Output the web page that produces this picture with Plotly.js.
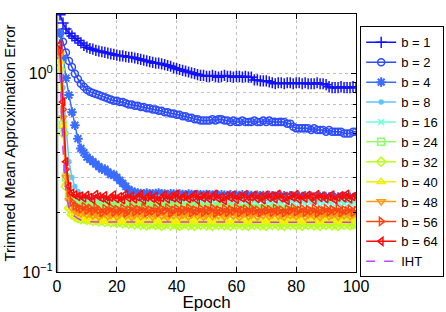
<!DOCTYPE html>
<html>
<head>
<meta charset="utf-8">
<script src="https://cdn.plot.ly/plotly-3.0.1.min.js"></script>
<style>html,body{margin:0;padding:0;background:#fff;}#chart{width:446px;height:312px;}</style>
</head>
<body>
<div id="chart"></div>
<script>
var epochs = [];
for (var i = 1; i <= 100; i++) epochs.push(i);

var b1 = [1.98,1.80,1.68,1.60,1.55,1.51,1.47,1.43,1.39,1.36,
1.34,1.33,1.31,1.30,1.29,1.28,1.27,1.26,1.25,1.24,
1.23,1.23,1.22,1.21,1.21,1.20,1.19,1.18,1.17,1.16,
1.15,1.14,1.13,1.13,1.12,1.11,1.10,1.09,1.07,1.06,
1.05,1.04,1.03,1.02,1.01,1.00,0.99,0.98,0.98,0.97,
0.97,0.98,0.97,0.96,0.97,0.98,0.97,0.97,0.96,0.97,
0.97,0.96,0.97,0.96,0.96,0.93,0.93,0.92,0.92,0.92,
0.91,0.90,0.89,0.90,0.90,0.89,0.90,0.90,0.89,0.90,
0.90,0.89,0.90,0.89,0.89,0.89,0.90,0.89,0.89,0.88,
0.86,0.85,0.85,0.85,0.86,0.85,0.85,0.85,0.86,0.85];

var b2 = [1.61,1.45,1.28,1.16,1.08,1.00,0.94,0.89,0.86,0.83,
0.81,0.80,0.79,0.78,0.77,0.76,0.75,0.74,0.73,0.73,
0.72,0.72,0.71,0.70,0.70,0.69,0.69,0.68,0.68,0.67,
0.67,0.66,0.66,0.65,0.65,0.64,0.64,0.63,0.63,0.62,
0.62,0.61,0.61,0.60,0.60,0.59,0.59,0.58,0.58,0.58,
0.58,0.59,0.58,0.59,0.59,0.58,0.58,0.57,0.58,0.57,
0.57,0.58,0.57,0.57,0.57,0.58,0.57,0.57,0.58,0.57,
0.58,0.57,0.57,0.57,0.57,0.57,0.56,0.56,0.54,0.53,
0.53,0.53,0.53,0.53,0.52,0.53,0.52,0.52,0.52,0.51,
0.52,0.51,0.51,0.51,0.51,0.50,0.50,0.50,0.51,0.51];

var b4 = [1.60,1.20,0.95,0.78,0.64,0.55,0.47,0.42,0.40,0.38,
0.37,0.36,0.35,0.34,0.33,0.33,0.32,0.31,0.31,0.30,
0.29,0.28,0.27,0.26,0.255,0.252,0.250,0.249,0.248,0.250,
0.248,0.247,0.249,0.250,0.248,0.247,0.246,0.248,0.247,0.246,
0.247,0.246,0.245,0.247,0.246,0.245,0.246,0.245,0.244,0.246,
0.245,0.244,0.246,0.243,0.245,0.244,0.243,0.245,0.242,0.244,
0.243,0.245,0.242,0.244,0.243,0.241,0.244,0.242,0.243,0.241,
0.243,0.242,0.240,0.243,0.241,0.242,0.240,0.242,0.241,0.239,
0.241,0.240,0.242,0.239,0.241,0.238,0.240,0.239,0.241,0.238,
0.239,0.240,0.237,0.239,0.238,0.240,0.237,0.238,0.236,0.237];

var b8 = [1.30,0.85,0.50,0.36,0.30,0.27,0.255,0.245,0.240,0.237,
0.235,0.238,0.233,0.236,0.234,0.237,0.232,0.235,0.238,0.233,
0.236,0.234,0.237,0.232,0.235,0.238,0.234,0.236,0.233,0.237,
0.235,0.232,0.236,0.238,0.233,0.235,0.237,0.232,0.236,0.234,
0.237,0.233,0.235,0.238,0.232,0.236,0.234,0.237,0.233,0.235,
0.238,0.234,0.236,0.232,0.235,0.237,0.233,0.236,0.234,0.238,
0.232,0.235,0.237,0.233,0.236,0.234,0.238,0.232,0.235,0.237,
0.233,0.236,0.234,0.237,0.232,0.235,0.238,0.233,0.236,0.234,
0.237,0.232,0.235,0.238,0.234,0.236,0.233,0.237,0.235,0.232,
0.236,0.238,0.233,0.235,0.237,0.234,0.236,0.232,0.235,0.237];

var b16 = [1.20,0.60,0.32,0.26,0.240,0.232,0.228,0.226,0.229,0.223,
0.227,0.222,0.226,0.229,0.221,0.225,0.228,0.223,0.226,0.220,
0.227,0.224,0.229,0.222,0.225,0.228,0.221,0.226,0.223,0.229,
0.224,0.221,0.227,0.225,0.222,0.228,0.224,0.226,0.221,0.227,
0.223,0.229,0.222,0.225,0.227,0.221,0.226,0.224,0.228,0.222,
0.225,0.227,0.221,0.226,0.223,0.229,0.224,0.222,0.227,0.225,
0.221,0.228,0.224,0.226,0.222,0.227,0.223,0.229,0.225,0.221,
0.226,0.224,0.228,0.222,0.225,0.227,0.221,0.226,0.224,0.228,
0.223,0.225,0.221,0.227,0.224,0.229,0.222,0.226,0.223,0.227,
0.225,0.221,0.228,0.224,0.226,0.222,0.227,0.223,0.225,0.228];

var b24 = [1.10,0.55,0.30,0.24,0.225,0.218,0.215,0.217,0.212,0.216,
0.213,0.210,0.216,0.214,0.211,0.217,0.212,0.215,0.209,0.214,
0.216,0.211,0.213,0.217,0.210,0.214,0.212,0.216,0.209,0.213,
0.215,0.210,0.214,0.212,0.216,0.209,0.213,0.211,0.215,0.210,
0.213,0.208,0.212,0.214,0.209,0.211,0.213,0.208,0.212,0.210,
0.207,0.211,0.209,0.213,0.208,0.210,0.206,0.211,0.209,0.207,
0.210,0.205,0.209,0.207,0.211,0.206,0.208,0.204,0.209,0.206,
0.203,0.207,0.205,0.208,0.203,0.206,0.204,0.200,0.205,0.202,
0.204,0.199,0.203,0.201,0.198,0.202,0.200,0.197,0.201,0.198,
0.196,0.199,0.197,0.195,0.198,0.194,0.196,0.193,0.195,0.192];

var b32 = [1.05,0.50,0.27,0.21,0.195,0.190,0.187,0.185,0.186,0.183,
0.184,0.181,0.183,0.180,0.182,0.179,0.181,0.178,0.180,0.177,
0.179,0.176,0.178,0.175,0.177,0.174,0.176,0.173,0.175,0.172,
0.174,0.176,0.173,0.175,0.171,0.174,0.176,0.172,0.175,0.173,
0.171,0.174,0.176,0.172,0.174,0.171,0.175,0.173,0.176,0.172,
0.174,0.171,0.175,0.173,0.176,0.172,0.174,0.171,0.175,0.173,
0.176,0.172,0.174,0.171,0.175,0.173,0.176,0.172,0.174,0.171,
0.175,0.173,0.176,0.172,0.174,0.171,0.175,0.173,0.176,0.172,
0.174,0.171,0.175,0.173,0.176,0.172,0.174,0.171,0.175,0.173,
0.176,0.172,0.174,0.171,0.175,0.173,0.176,0.172,0.174,0.175];

var b40 = [1.15,0.55,0.28,0.21,0.195,0.190,0.188,0.186,0.185,0.184,
0.182,0.185,0.181,0.183,0.180,0.184,0.182,0.179,0.183,0.181,
0.184,0.180,0.182,0.185,0.179,0.183,0.181,0.184,0.180,0.182,
0.179,0.183,0.181,0.185,0.180,0.182,0.184,0.179,0.183,0.181,
0.180,0.184,0.182,0.179,0.183,0.181,0.185,0.180,0.182,0.184,
0.179,0.183,0.181,0.180,0.184,0.182,0.179,0.183,0.181,0.185,
0.180,0.182,0.184,0.179,0.183,0.181,0.180,0.184,0.182,0.179,
0.183,0.181,0.185,0.180,0.182,0.184,0.179,0.183,0.181,0.180,
0.184,0.182,0.179,0.183,0.181,0.185,0.180,0.182,0.184,0.179,
0.183,0.181,0.180,0.184,0.182,0.179,0.183,0.181,0.185,0.182];

var b48 = [1.25,0.60,0.30,0.23,0.210,0.203,0.200,0.197,0.200,0.195,
0.197,0.192,0.196,0.190,0.195,0.198,0.191,0.194,0.197,0.190,
0.195,0.199,0.192,0.196,0.189,0.194,0.198,0.191,0.195,0.193,
0.197,0.190,0.194,0.198,0.192,0.195,0.189,0.196,0.193,0.198,
0.191,0.194,0.197,0.190,0.195,0.199,0.192,0.196,0.190,0.194,
0.198,0.191,0.195,0.193,0.197,0.190,0.194,0.198,0.192,0.196,
0.189,0.195,0.197,0.191,0.194,0.198,0.190,0.196,0.193,0.197,
0.191,0.195,0.199,0.192,0.194,0.190,0.197,0.193,0.196,0.191,
0.195,0.198,0.190,0.194,0.197,0.192,0.196,0.189,0.195,0.198,
0.191,0.194,0.197,0.190,0.196,0.193,0.198,0.191,0.195,0.197];

var b56 = [1.30,0.66,0.33,0.25,0.225,0.215,0.212,0.208,0.214,0.205,
0.210,0.203,0.212,0.206,0.199,0.209,0.204,0.211,0.200,0.207,
0.203,0.210,0.198,0.206,0.212,0.201,0.207,0.204,0.211,0.199,
0.206,0.203,0.210,0.200,0.208,0.204,0.211,0.198,0.205,0.209,
0.201,0.207,0.204,0.211,0.199,0.206,0.203,0.209,0.200,0.207,
0.204,0.210,0.198,0.206,0.202,0.209,0.200,0.207,0.203,0.211,
0.199,0.205,0.208,0.201,0.210,0.203,0.206,0.199,0.209,0.204,
0.207,0.200,0.210,0.203,0.206,0.199,0.208,0.204,0.211,0.201,
0.205,0.209,0.200,0.207,0.203,0.210,0.198,0.206,0.204,0.209,
0.201,0.207,0.203,0.210,0.199,0.206,0.204,0.208,0.200,0.205];

var b64 = [1.40,0.72,0.36,0.27,0.250,0.245,0.240,0.242,0.236,0.244,
0.238,0.232,0.246,0.240,0.236,0.243,0.229,0.238,0.245,0.234,
0.240,0.231,0.247,0.236,0.242,0.233,0.239,0.246,0.230,0.238,
0.244,0.235,0.241,0.228,0.237,0.245,0.233,0.240,0.236,0.247,
0.231,0.239,0.243,0.234,0.238,0.246,0.230,0.241,0.236,0.244,
0.233,0.240,0.247,0.235,0.239,0.229,0.243,0.237,0.245,0.232,
0.241,0.236,0.246,0.230,0.239,0.244,0.234,0.240,0.231,0.245,
0.237,0.242,0.233,0.247,0.236,0.240,0.229,0.243,0.238,0.246,
0.232,0.241,0.235,0.244,0.239,0.230,0.246,0.237,0.242,0.234,
0.240,0.245,0.231,0.238,0.243,0.236,0.247,0.233,0.240,0.244];

var iht = [1.00,0.42,0.25,0.21,0.195,0.190,0.186,0.183,0.181,0.180,
0.179,0.179,0.178,0.178,0.178,0.178,0.178,0.178,0.178,0.178,
0.178,0.178,0.178,0.178,0.178,0.178,0.178,0.178,0.178,0.178,
0.178,0.178,0.178,0.178,0.178,0.178,0.178,0.178,0.178,0.178,
0.178,0.178,0.178,0.178,0.178,0.178,0.178,0.178,0.178,0.178,
0.178,0.178,0.178,0.178,0.178,0.178,0.178,0.178,0.178,0.178,
0.178,0.178,0.178,0.178,0.178,0.178,0.178,0.178,0.178,0.178,
0.178,0.178,0.178,0.178,0.178,0.178,0.178,0.178,0.178,0.178,
0.178,0.178,0.178,0.178,0.178,0.178,0.178,0.178,0.178,0.178,
0.178,0.178,0.178,0.178,0.178,0.178,0.178,0.178,0.178,0.178];

var names = ['b = 1','b = 2','b = 4','b = 8','b = 16','b = 24','b = 32','b = 40','b = 48','b = 56','b = 64','IHT'];
var series = [b1,b2,b4,b8,b16,b24,b32,b40,b48,b56,b64,iht];
var colors = ['#1212ff','#2d4cff','#3a6cff','#5cc6ff','#6cffdc','#8cff6a','#b8ff1a','#f0f000','#ff9a14','#ff4414','#ff0a0a','#bb44ff'];
var symbols = ['cross-thin-open','circle-open','asterisk-open','circle','x-thin-open','square-open','diamond-open','triangle-up-open','triangle-down-open','triangle-right-open','triangle-left-open',null];
var msizes = [8,7,8,4,6,7,7,7,7,7,7,0];

var traces = series.map(function (ys, k) {
  var t = {
    x: epochs, y: ys, name: names[k], type: 'scatter',
    line: {color: colors[k], width: 1.5}
  };
  if (symbols[k]) {
    t.mode = 'lines+markers';
    t.marker = {symbol: symbols[k], size: msizes[k], color: colors[k], line: {color: colors[k], width: k === 2 ? 2 : 1.5}};
  } else {
    t.mode = 'lines';
    t.line.dash = 'dash';
  }
  return t;
});

var fam = '"Liberation Sans", Arial, sans-serif';

var layout = {
  width: 446, height: 312,
  margin: {l: 57, r: 90, t: 14, b: 40, autoexpand: false},
  paper_bgcolor: '#fff', plot_bgcolor: '#fff',
  font: {family: fam, size: 14, color: '#000'},
  showlegend: true,
  legend: {x: 1.014, y: 0.952, xanchor: 'left', yanchor: 'top', bordercolor: '#000', borderwidth: 1,
           bgcolor: '#fff', font: {family: fam, size: 13, color: '#000'}, tracegroupgap: 0, itemwidth: 30},
  xaxis: {
    range: [0, 100], tickvals: [0,20,40,60,80,100], ticks: 'inside', ticklen: 5, tickcolor: '#000',
    showline: true, linecolor: '#000', linewidth: 1, mirror: 'ticks', zeroline: false,
    showgrid: true, gridcolor: '#c0c0c0', griddash: 'dot', gridwidth: 1,
    title: {text: 'Epoch', font: {family: fam, size: 17}, standoff: 0},
    tickfont: {family: fam, size: 16}
  },
  yaxis: {
    type: 'log', range: [-1, 0.301],
    tickvals: [0.1, 1], ticktext: ['10<sup>\u22121</sup>', '10<sup>0</sup>'],
    ticks: 'inside', ticklen: 5, tickcolor: '#000',
    showline: true, linecolor: '#000', linewidth: 1, mirror: 'ticks', zeroline: false,
    showgrid: true, gridcolor: '#c0c0c0', griddash: 'dot', gridwidth: 1,
    minor: {tickvals: [0.2,0.3,0.4,0.5,0.6,0.7,0.8,0.9], ticks: 'inside', ticklen: 3, tickcolor: '#000',
            showgrid: true, gridcolor: '#c0c0c0', griddash: 'dot', gridwidth: 1},
    title: {text: 'Trimmed Mean Approximation Error', font: {family: fam, size: 15}, standoff: 2},
    tickfont: {family: fam, size: 16}
  },
  shapes: [{type: 'line', xref: 'paper', yref: 'paper', x0: 0, x1: 0, y0: 0, y1: 1,
            line: {color: '#8c8c8c', width: 2.5}, layer: 'below'}]
};

Plotly.newPlot('chart', traces, layout, {displayModeBar: false, staticPlot: true});
</script>
</body>
</html>
